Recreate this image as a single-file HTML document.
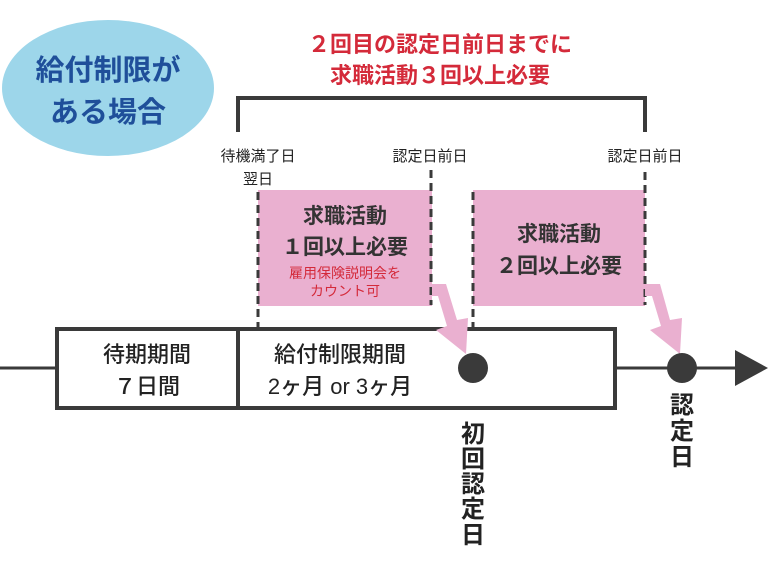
<!DOCTYPE html>
<html><head><meta charset="utf-8"><style>
body{margin:0;width:768px;height:567px;background:#fff;overflow:hidden}
svg text{font-family:"Liberation Sans","Noto Sans CJK JP",sans-serif}
</style></head><body>
<svg width="768" height="567" viewBox="0 0 768 567" xmlns="http://www.w3.org/2000/svg">
<ellipse cx="108" cy="88" rx="106" ry="68" fill="#9dd6ea"/>
<text x="108" y="80" font-size="29" font-weight="bold" fill="#1f4f9a" text-anchor="middle">給付制限が</text>
<text x="108" y="122" font-size="29" font-weight="bold" fill="#1f4f9a" text-anchor="middle">ある場合</text>
<text x="440" y="52" font-size="22" font-weight="bold" fill="#d42a3a" text-anchor="middle">２回目の認定日前日までに</text>
<text x="440" y="83" font-size="22" font-weight="bold" fill="#d42a3a" text-anchor="middle">求職活動３回以上必要</text>
<polyline points="238,132 238,98 645,98 645,132" fill="none" stroke="#3a3a3a" stroke-width="4"/>
<text x="258" y="161" font-size="15" fill="#222" text-anchor="middle">待機満了日</text>
<text x="258" y="184" font-size="15" fill="#222" text-anchor="middle">翌日</text>
<text x="430" y="161" font-size="15" fill="#222" text-anchor="middle">認定日前日</text>
<text x="645" y="161" font-size="15" fill="#222" text-anchor="middle">認定日前日</text>
<rect x="258" y="190" width="174" height="116" fill="#eab0d0"/>
<rect x="473" y="190" width="172" height="116" fill="#eab0d0"/>
<g stroke="#3a3a3a" stroke-width="3" stroke-dasharray="8,5">
<line x1="258" y1="192" x2="258" y2="332"/>
<line x1="431" y1="170" x2="431" y2="305"/>
<line x1="473" y1="192" x2="473" y2="350"/>
<line x1="645" y1="172" x2="645" y2="305"/>
</g>
<text x="345" y="223" font-size="21" font-weight="bold" fill="#333" text-anchor="middle">求職活動</text>
<text x="345" y="254" font-size="21" font-weight="bold" fill="#333" text-anchor="middle">１回以上必要</text>
<text x="345" y="278" font-size="14" fill="#d42a3a" text-anchor="middle">雇用保険説明会を</text>
<text x="345" y="296" font-size="14" fill="#d42a3a" text-anchor="middle">カウント可</text>
<text x="559" y="241" font-size="21" font-weight="bold" fill="#333" text-anchor="middle">求職活動</text>
<text x="559" y="273" font-size="21" font-weight="bold" fill="#333" text-anchor="middle">２回以上必要</text>
<line x1="0" y1="368" x2="740" y2="368" stroke="#3a3a3a" stroke-width="3"/>
<polygon points="735,350 768,368 735,386" fill="#3a3a3a"/>
<rect x="57" y="329" width="558" height="79" fill="#fff" stroke="#3a3a3a" stroke-width="4"/>
<line x1="238" y1="329" x2="238" y2="408" stroke="#3a3a3a" stroke-width="4"/>
<g font-size="22" font-weight="500" fill="#222" text-anchor="middle">
<text x="147" y="362">待期期間</text>
<text x="147" y="394">７日間</text>
<text x="340" y="362">給付制限期間</text>
<text x="340" y="394">2ヶ月 or 3ヶ月</text>
</g>
<g fill="#eab0d0">
<polygon points="432,284 446,284 457,320 468,318 466,354 436,330 447,326 438,296 432,296"/>
<polygon points="645,284 660,284 670,320 682,318 680,354 650,330 661,326 652,296 645,296"/>
</g>
<circle cx="473" cy="368" r="15" fill="#3a3a3a"/>
<circle cx="682" cy="368" r="15" fill="#3a3a3a"/>
<g font-size="24" font-weight="bold" fill="#222" text-anchor="middle">
<text x="473" y="442">初</text><text x="473" y="467">回</text><text x="473" y="492">認</text><text x="473" y="517">定</text><text x="473" y="543">日</text>
<text x="682" y="413">認</text><text x="682" y="439">定</text><text x="682" y="465">日</text>
</g>
</svg>
</body></html>
